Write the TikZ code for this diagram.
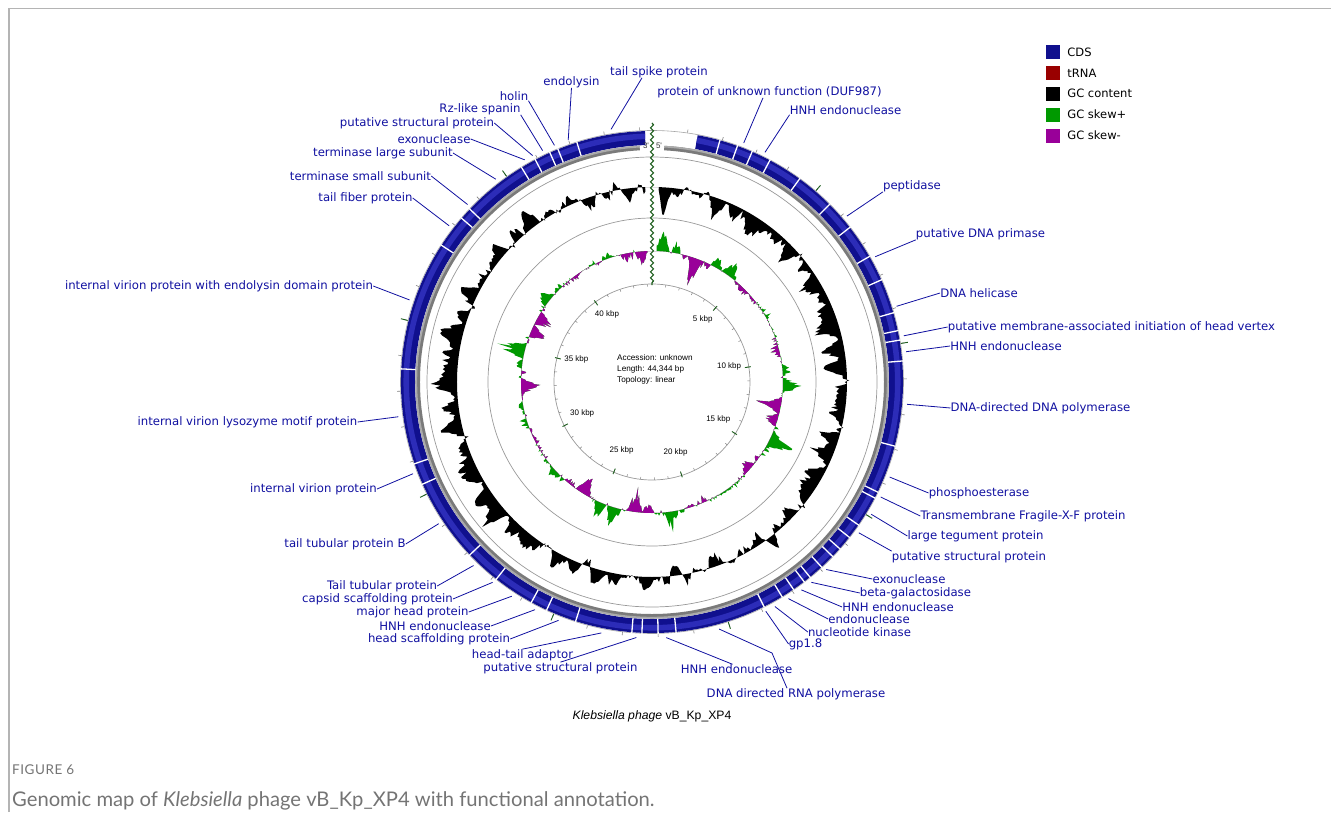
\documentclass[tikz,border=0pt]{standalone}
\usepackage{fontspec}
\setmainfont{DejaVu Sans}
\newfontfamily\arialfont{Liberation Sans}
\newfontfamily\captionfont{Lato}
\usepackage{tikz}
\usetikzlibrary{positioning,decorations.pathmorphing}

\definecolor{labelblue}{HTML}{1010A0}
\definecolor{cdsblue}{HTML}{10108E}
\definecolor{cdslight}{HTML}{2C2CB8}
\definecolor{trnared}{HTML}{990000}
\definecolor{skewplus}{HTML}{009900}
\definecolor{skewminus}{HTML}{990099}
\definecolor{ringgray}{HTML}{7A7A7A}
\definecolor{ringlight}{HTML}{ABABAB}
\definecolor{tickgreen}{HTML}{1E5E1E}
\definecolor{framegray}{HTML}{B4B4B4}
\definecolor{captiongray}{HTML}{747474}

% sliding window profiles, angle in degrees clockwise from the top
\pgfmathdeclarefunction{gcprofile}{1}{%
  \pgfmathparse{-12*sin(#1+15)+9*sin(41*#1)*sin(13*#1+20)+6*sin(37*#1+40)*cos(29*#1)+5*rand*abs(sin(23*#1))+2*rand-28*max(0,1-abs(#1-3.5)/2.5)}%
}
\pgfmathdeclarefunction{skewprofile}{1}{%
  \pgfmathparse{25*sin(13*#1+15)*(0.55+0.45*sin(4*#1+30))*(1-abs(2*(#1/8-floor(#1/8))-1))*(0.7+0.6*rnd)+4*rand*abs(sin(11*#1))}%
}

\begin{document}
\begin{tikzpicture}[
    x=1pt, y=1pt,
    lbl/.style={font=\fontsize{11.7}{13}\selectfont, text=labelblue, inner sep=0pt},
    leader/.style={draw=labelblue, line width=0.8pt},
    kbp/.style={font=\arialfont\fontsize{8}{9}\selectfont, inner sep=0pt},
    track/.style={draw=gray!80, line width=0.7pt},
    legendbox/.style={minimum size=14pt, inner sep=0pt},
    legendtext/.style={font=\fontsize{11.5}{13}\selectfont, inner sep=0pt, right=7pt of #1}
]
\useasboundingbox (-652,-430) rectangle (679,382);

% Panel frame
\draw[framegray, line width=1.4pt] (-643,-430) -- (-643,373.5) -- (679,373.5);

% Track circles
\draw[gray!70, line width=0.6pt] (0,0) circle (251.5);
\draw[track] (0,0) circle (225);
\draw[track] (0,0) circle (164);
\draw[track] (0,0) circle (98);

% GC content
\pgfmathsetseed{11}
\fill[black, even odd rule] (88:195)
  \foreach \a [evaluate=\a as \r using {195+gcprofile(\a)}] in {2,2.5,...,358} { -- (90-\a:\r) }
  -- (-268:195) -- cycle (0,0) circle (195);

% GC skew
\pgfmathsetseed{5}
\fill[skewplus, even odd rule] (88:131)
  \foreach \a [evaluate=\a as \r using {131+skewprofile(\a)}] in {2,2.5,...,358} { -- (90-\a:\r) }
  -- (-268:131) -- cycle (0,0) circle (131);
\begin{scope}
  \clip (0,0) circle (131);
  \pgfmathsetseed{5}
  \fill[skewminus, even odd rule] (88:131)
    \foreach \a [evaluate=\a as \r using {131+skewprofile(\a)}] in {2,2.5,...,358} { -- (90-\a:\r) }
    -- (-268:131) -- cycle (0,0) circle (131);
\end{scope}

% CDS ring
\fill[cdsblue] (79.5:251) arc[start angle=79.5, end angle=-268.4, radius=251]
  -- (-268.4:237) arc[start angle=-268.4, end angle=79.5, radius=237] -- cycle;
\fill[cdslight] (79.5:248.5) arc[start angle=79.5, end angle=-268.4, radius=248.5]
  -- (-268.4:243) arc[start angle=-268.4, end angle=79.5, radius=243] -- cycle;
\foreach \g in {15.7,19.9,23.5,28,36,45,52,60,66,74,78.2,80.4,85.2,104.8,116,117.5,124.7,128.2,131.6,134,137.5,141,142.7,145.7,148.8,153.5,174.5,178.6,182.3,184.6,197.7,204.8,208.7,218.3,226.5,246,251,273,303,310.7,313.5,328.7,332.3,336,338,342.6}
  \draw[white, line width=1.3pt] (90-\g:236) -- (90-\g:252);

% Strand ring
\fill[ringgray] (87:236.5) arc[start angle=87, end angle=-267, radius=236.5]
  -- (-267:232) arc[start angle=-267, end angle=87, radius=232] -- cycle;
\fill[ringlight] (87:236.5) arc[start angle=87, end angle=-267, radius=236.5]
  -- (-267:234.8) arc[start angle=-267, end angle=87, radius=234.8] -- cycle;
\node[kbp, text=black!80] (end3) at (-6,236) {3'};
\node[kbp, text=black!80] (end5) at (7,236) {5'};

% Ticks
\foreach \k in {1,...,44} {
  \draw[gray, line width=0.6pt] (90-\k*8.11835:252) -- (90-\k*8.11835:255);
  \draw[gray, line width=0.5pt] (90-\k*8.11835:98) -- (90-\k*8.11835:95.5);
}
\foreach \k in {5,10,...,40} {
  \draw[tickgreen, line width=0.9pt] (90-\k*8.11835:252) -- (90-\k*8.11835:259);
  \draw[tickgreen, line width=0.9pt] (90-\k*8.11835:100) -- (90-\k*8.11835:94);
  \node[kbp, yshift=3.5pt] (k\k) at (90-\k*8.11835:78) {\k\ kbp};
}

% Start / end of the linear genome
\draw[tickgreen, line width=1.2pt, decorate, decoration={snake, amplitude=1.5pt, segment length=6pt}] (90:259) -- (90:97);

% Centre text
\node[kbp, font=\arialfont\fontsize{8.2}{11}\selectfont, align=left, anchor=west] (info) at (-35,13) {Accession: unknown\\Length: 44,344 bp\\Topology: linear};

% Legend
\node[legendbox, fill=cdsblue] (kcds) at (401,330) {};
\node[legendbox, fill=trnared, below=6.5pt of kcds] (ktrna) {};
\node[legendbox, fill=black, below=6.5pt of ktrna] (kgc) {};
\node[legendbox, fill=skewplus, below=6.5pt of kgc] (kplus) {};
\node[legendbox, fill=skewminus, below=6.5pt of kplus] (kminus) {};
\node[legendtext=kcds] (tcds) {CDS};
\node[legendtext=ktrna] (ttrna) {tRNA};
\node[legendtext=kgc] (tgc) {GC content};
\node[legendtext=kplus] (tplus) {GC skew+};
\node[legendtext=kminus] (tminus) {GC skew-};

% Gene labels, top
\node[lbl] (tailspike) at (7,310) {tail spike protein};
\node[lbl] (duf) at (117.5,290) {protein of unknown function (DUF987)};
\node[lbl] (hnhtop) at (193.5,272) {HNH endonuclease};

% Gene labels, right
\node[lbl] (peptidase) at (260,196) {peptidase};
\node[lbl] (primase) at (328.5,148) {putative DNA primase};
\node[lbl] (helicase) at (327,89) {DNA helicase};
\node[lbl] (vertex) at (459.5,55) {putative membrane-associated initiation of head vertex};
\node[lbl] (hnhright) at (354,36) {HNH endonuclease};
\node[lbl] (dnapol) at (388.5,-26) {DNA-directed DNA polymerase};
\node[lbl] (phospho) at (327,-111) {phosphoesterase};
\node[lbl] (fragile) at (371,-134) {Transmembrane Fragile-X-F protein};
\node[lbl] (tegument) at (323.5,-154) {large tegument protein};
\node[lbl] (structright) at (317,-175) {putative structural protein};
\node[lbl] (exoright) at (257,-197) {exonuclease};
\node[lbl] (betagal) at (263.5,-211) {beta-galactosidase};
\node[lbl] (hnhlow) at (246,-225) {HNH endonuclease};
\node[lbl] (endonuc) at (217,-237) {endonuclease};
\node[lbl] (kinase) at (207.5,-250) {nucleotide kinase};
\node[lbl] (gpone) at (153.5,-262) {gp1.8};

% Gene labels, bottom
\node[lbl] (rnapol) at (144,-312) {DNA directed RNA polymerase};
\node[lbl] (hnhbottom) at (84.5,-287) {HNH endonuclease};
\node[lbl] (structbottom) at (-91.5,-286) {putative structural protein};
\node[lbl] (headtail) at (-129.5,-273) {head-tail adaptor};
\node[lbl] (headscaf) at (-213,-257) {head scaffolding protein};
\node[lbl] (hnhhead) at (-217,-244) {HNH endonuclease};
\node[lbl] (majorhead) at (-239.5,-230) {major head protein};
\node[lbl] (capsid) at (-274.5,-217) {capsid scaffolding protein};
\node[lbl] (tubular) at (-270,-204) {Tail tubular protein};

% Gene labels, left
\node[lbl] (tubularb) at (-307,-162) {tail tubular protein B};
\node[lbl] (virion) at (-338.5,-107) {internal virion protein};
\node[lbl] (lysozyme) at (-404.5,-40) {internal virion lysozyme motif protein};
\node[lbl] (virionendo) at (-433,96) {internal virion protein with endolysin domain protein};
\node[lbl] (fiber) at (-286.5,184) {tail fiber protein};
\node[lbl] (termsmall) at (-291.5,206) {terminase small subunit};
\node[lbl] (termlarge) at (-269,229) {terminase large subunit};
\node[lbl] (exoleft) at (-218,243) {exonuclease};
\node[lbl] (structleft) at (-235,259) {putative structural protein};
\node[lbl] (spanin) at (-172,273) {Rz-like spanin};
\node[lbl] (holin) at (-138,286) {holin};
\node[lbl] (endolysin) at (-80.5,300) {endolysin};

% Gene positions on the CDS ring
\foreach \n/\ang in {tailspike/99.2, duf/69.0, hnhtop/63.8, peptidase/40.4, primase/29.3, helicase/17.2, vertex/10.4, hnhright/6.8, dnapol/-5.0, phospho/-21.8, fragile/-26.7, tegument/-31.1, structright/-36.1, exoright/-47.1, betagal/-51.5, hnhlow/-54.3, endonuc/-57.8, kinase/-61.3, gpone/-63.6, rnapol/-74.8, hnhbottom/-86.8, structbottom/-93.5, headtail/-101.4, headscaf/-111.4, hnhhead/-117.2, majorhead/-123.2, capsid/-128.5, tubular/-134.2, tubularb/-146.4, virion/-159.0, lysozyme/-172.2, virionendo/161.3, fiber/142.4, termsmall/136.1, termlarge/127.6, exoleft/119.8, structleft/117.8, spanin/115.3, holin/112.4, endolysin/109.1}
  \coordinate (r-\n) at (\ang:256);
\coordinate (rnapol-bend) at (120,-271);

% Connections
\draw[leader] (r-tailspike) -- ([xshift=-17pt]tailspike.south);
\draw[leader] (r-duf) -- ([xshift=-6.5pt]duf.south);
\draw[leader] (r-hnhtop) -- (hnhtop.south west);
\draw[leader] (r-peptidase) -- (peptidase.south west);
\draw[leader] (r-primase) -- (primase.south west);
\draw[leader] (r-helicase) -- (helicase.west);
\draw[leader] (r-vertex) -- (vertex.west);
\draw[leader] (r-hnhright) -- (hnhright.west);
\draw[leader] (r-dnapol) -- (dnapol.west);
\draw[leader] (r-phospho) -- (phospho.west);
\draw[leader] (r-fragile) -- (fragile.west);
\draw[leader] (r-tegument) -- (tegument.west);
\draw[leader] (r-structright) -- (structright.north west);
\draw[leader] (r-exoright) -- (exoright.west);
\draw[leader] (r-betagal) -- (betagal.west);
\draw[leader] (r-hnhlow) -- (hnhlow.west);
\draw[leader] (r-endonuc) -- (endonuc.west);
\draw[leader] (r-kinase) -- (kinase.west);
\draw[leader] (r-gpone) -- (gpone.west);
\draw[leader] (r-rnapol) -- (rnapol-bend) -- ([xshift=-9pt]rnapol.north);
\draw[leader] (r-hnhbottom) -- ([xshift=-4pt]hnhbottom.north);
\draw[leader] (r-structbottom) -- (structbottom.north);
\draw[leader] (r-headtail) -- (headtail.north);
\draw[leader] (r-headscaf) -- (headscaf.east);
\draw[leader] (r-hnhhead) -- (hnhhead.east);
\draw[leader] (r-majorhead) -- (majorhead.east);
\draw[leader] (r-capsid) -- (capsid.east);
\draw[leader] (r-tubular) -- (tubular.east);
\draw[leader] (r-tubularb) -- (tubularb.east);
\draw[leader] (r-virion) -- (virion.east);
\draw[leader] (r-lysozyme) -- (lysozyme.east);
\draw[leader] (r-virionendo) -- (virionendo.east);
\draw[leader] (r-fiber) -- (fiber.east);
\draw[leader] (r-termsmall) -- (termsmall.east);
\draw[leader] (r-termlarge) -- (termlarge.east);
\draw[leader] (r-exoleft) -- (exoleft.east);
\draw[leader] (r-structleft) -- (structleft.east);
\draw[leader] (r-spanin) -- (spanin.south east);
\draw[leader] (r-holin) -- (holin.south east);
\draw[leader] (r-endolysin) -- (endolysin.south);

% Title and caption
\node[font=\arialfont\fontsize{12.2}{14}\selectfont] (title) at (0,-334) {\textit{Klebsiella phage} vB\_Kp\_XP4};
\node[font=\captionfont\fontsize{13.5}{15}\selectfont\addfontfeatures{LetterSpace=4}, text=captiongray, anchor=west, inner sep=0pt] (fignum) at (-640,-388) {FIGURE 6};
\node[font=\captionfont\fontsize{20.2}{24}\selectfont, text=captiongray, anchor=west, inner sep=0pt] (caption) at (-640,-419) {Genomic map of \textit{Klebsiella} phage vB\_Kp\_XP4 with functional annotation.};

\end{tikzpicture}
\end{document}
